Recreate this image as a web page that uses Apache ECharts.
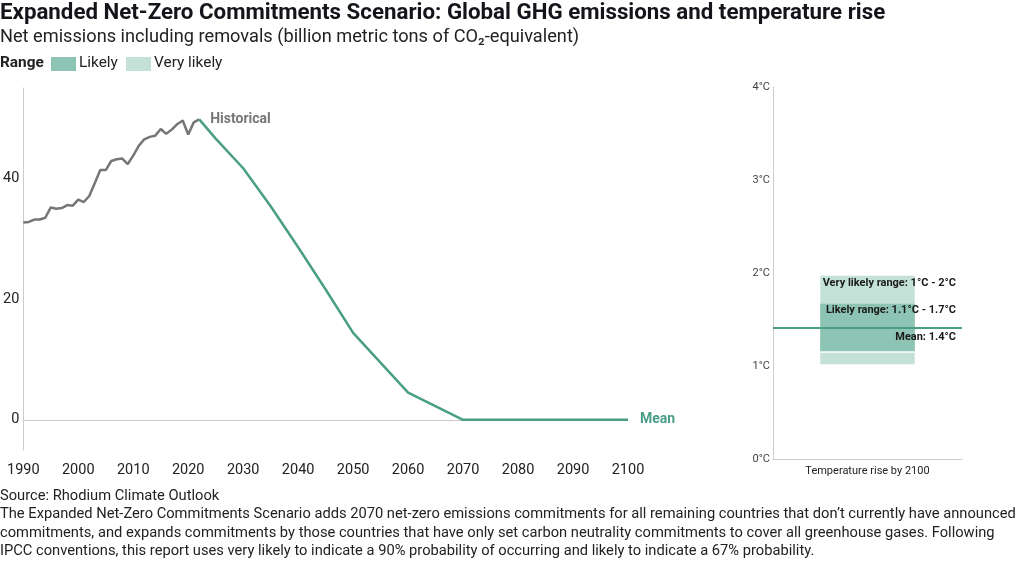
<!DOCTYPE html>
<html><head><meta charset="utf-8">
<script src="https://cdn.jsdelivr.net/npm/echarts@6/dist/echarts.min.js"></script>
<style>html,body{margin:0;padding:0;background:#fff}#c{width:1020px;height:561px}</style>
</head><body><div id="c"></div>
<script>
// ---- data ----
const histYears = [1990,1991,1992,1993,1994,1995,1996,1997,1998,1999,2000,2001,2002,2003,2004,2005,2006,2007,2008,2009,2010,2011,2012,2013,2014,2015,2016,2017,2018,2019,2020,2021,2022];
const histValues = [32.7,32.8,33.2,33.2,33.5,35.2,35.0,35.1,35.6,35.5,36.5,36.1,37.1,39.2,41.4,41.4,42.9,43.2,43.3,42.4,43.8,45.4,46.5,46.9,47.1,48.2,47.4,48.1,49.0,49.6,47.3,49.3,49.8];
const projYears = [2022,2025,2030,2035,2040,2045,2050,2060,2070,2080,2090,2100];
const meanValues = [49.8,46.6,41.7,35.4,28.6,21.6,14.4,4.5,0,0,0,0];
const veryLikelyLow = [49.8,45.7,40.5,34.2,27.5,20.7,13.8,4.2,0,0,0,0];
const veryLikelyHigh = [49.8,47.5,42.9,36.6,29.7,22.5,15.0,4.8,0,0,0,0];
const likelyLow = [49.8,46.1,41.1,34.8,28.0,21.1,14.1,4.35,0,0,0,0];
const likelyHigh = [49.8,47.1,42.3,36.0,29.2,22.1,14.7,4.65,0,0,0,0];
const yTicks = [0,20,40];
const tempCategory = ['Temperature rise by 2100'];
const tempMean = 1.41;
const tempLikely = [1.15,1.67];
const tempVeryLikely = [1.02,1.97];
const tempLabels = ['Very likely range: 1°C - 2°C','Likely range: 1.1°C - 1.7°C','Mean: 1.4°C'];

const FONT = 'Roboto, "Noto Sans", sans-serif';
const C_LIKELY = '#8dc4b4';
const C_VLIKELY = '#c4e1d8';
const C_MEAN = '#4a9e86';
const C_HIST = '#767676';

const pair = (xs, ys) => xs.map((x,i)=>[x, ys[i]]);
const diff = (hi, lo) => projYears.map((x,i)=>[x, +(hi[i]-lo[i]).toFixed(3)]);

const chart = echarts.init(document.getElementById('c'), null, {renderer:'canvas'});

function rangeItem(label, color, whiteBottom, labelOffset) {
  return function(params, api) {
    const x = api.value(0);
    const lo = api.coord([x, api.value(1)]);
    const hi = api.coord([x, api.value(2)]);
    const bw = api.size([1,0])[0]*0.5;
    const cs = params.coordSys;
    const children = [{
      type:'rect', shape:{x:lo[0]-bw/2, y:hi[1], width:bw, height:lo[1]-hi[1]},
      style:{fill:color}
    }];
    if (whiteBottom) children.push({type:'line', shape:{x1:lo[0]-bw/2,y1:lo[1],x2:lo[0]+bw/2,y2:lo[1]}, style:{stroke:'#fff', lineWidth:1.5}});
    children.push({type:'text', z2:10, style:{text:label, x:cs.x+cs.width-6, y:hi[1]+labelOffset, align:'right', verticalAlign:'middle', font:'bold 11px '+FONT, fill:'#1a1a1a'}});
    return {type:'group', children};
  };
}

const footer = [
  'Source: Rhodium Climate Outlook',
  'The Expanded Net-Zero Commitments Scenario adds 2070 net-zero emissions commitments for all remaining countries that don’t currently have announced',
  'commitments, and expands commitments by those countries that have only set carbon neutrality commitments to cover all greenhouse gases. Following',
  'IPCC conventions, this report uses very likely to indicate a 90% probability of occurring and likely to indicate a 67% probability.'
];

const graphic = [
  {type:'text', left:0, top:2, style:{text:'Expanded Net-Zero Commitments Scenario: Global GHG emissions and temperature rise', font:'bold 22.3px '+FONT, fill:'#14141a'}},
  {type:'text', left:0, top:28, style:{text:'Net emissions including removals (billion metric tons of CO₂-equivalent)', font:'18.2px '+FONT, fill:'#222'}},
  {type:'text', left:0, top:56, style:{text:'Range', font:'bold 15.4px '+FONT, fill:'#222'}},
  {type:'rect', left:51, top:57, shape:{width:25, height:14}, style:{fill:C_LIKELY}},
  {type:'text', left:79, top:56, style:{text:'Likely', font:'15.4px '+FONT, fill:'#222'}},
  {type:'rect', left:126, top:57, shape:{width:25, height:14}, style:{fill:C_VLIKELY}},
  {type:'text', left:154, top:56, style:{text:'Very likely', font:'15.4px '+FONT, fill:'#222'}},
];
footer.forEach((t,i)=>graphic.push({type:'text', left:0, top:489+i*18.3, style:{text:t, font:'14.7px '+FONT, fill:'#222'}}));

chart.setOption({
  animation:false,
  backgroundColor:'#fff',
  graphic,
  grid:[
    {left:20, top:88, width:608, height:362},
    {left:773, top:87, width:189, height:372}
  ],
  xAxis:[
    {gridIndex:0, type:'value', min:1990, max:2100, interval:10,
     axisLine:{show:true, lineStyle:{color:'#cccccc', width:1}}, axisTick:{show:false}, splitLine:{show:false},
     axisLabel:{color:'#222', fontSize:14.5, fontFamily:FONT, margin:13, formatter:v=>String(v)}},
    {gridIndex:1, type:'category', data:tempCategory,
     axisLine:{show:true, lineStyle:{color:'#cccccc'}}, axisTick:{show:false},
     axisLabel:{color:'#222', fontSize:11, fontFamily:FONT, margin:7}}
  ],
  yAxis:[
    {gridIndex:0, type:'value', min:-5, max:55, interval:5,
     axisLine:{show:true, lineStyle:{color:'#cccccc'}}, axisTick:{show:false}, splitLine:{show:false},
     axisLabel:{color:'#222', fontSize:14.5, fontFamily:FONT, margin:4, padding:[5,0,0,0], formatter:v=>yTicks.includes(v)?String(v):''}},
    {gridIndex:1, type:'value', min:0, max:4, interval:1,
     axisLine:{show:true, lineStyle:{color:'#cccccc'}}, axisTick:{show:false}, splitLine:{show:false},
     axisLabel:{color:'#444', fontSize:11, fontFamily:FONT, margin:3, formatter:'{value}°C'}}
  ],
  series:[
    {type:'line', xAxisIndex:0, yAxisIndex:0, stack:'vl', data:pair(projYears, veryLikelyLow), showSymbol:false, lineStyle:{width:0}, silent:true},
    {type:'line', xAxisIndex:0, yAxisIndex:0, stack:'vl', data:diff(veryLikelyHigh, veryLikelyLow), showSymbol:false, lineStyle:{width:0}, areaStyle:{color:C_VLIKELY, opacity:0.75}, silent:true},
    {type:'line', xAxisIndex:0, yAxisIndex:0, stack:'lk', data:pair(projYears, likelyLow), showSymbol:false, lineStyle:{width:0}, silent:true},
    {type:'line', xAxisIndex:0, yAxisIndex:0, stack:'lk', data:diff(likelyHigh, likelyLow), showSymbol:false, lineStyle:{width:0}, areaStyle:{color:C_LIKELY, opacity:0.6}, silent:true},
    {type:'line', name:'Historical', xAxisIndex:0, yAxisIndex:0, data:pair(histYears, histValues), showSymbol:false,
     lineStyle:{color:C_HIST, width:2.5}, itemStyle:{color:C_HIST},
     endLabel:{show:true, formatter:'Historical', color:C_HIST, fontWeight:'bold', fontSize:14, fontFamily:FONT, distance:11}},
    {type:'line', name:'Mean', xAxisIndex:0, yAxisIndex:0, data:pair(projYears, meanValues), showSymbol:false,
     lineStyle:{color:C_MEAN, width:2.5}, itemStyle:{color:C_MEAN},
     endLabel:{show:true, formatter:'Mean', color:C_MEAN, fontWeight:'bold', fontSize:14, fontFamily:FONT, distance:12}},
    {type:'custom', xAxisIndex:1, yAxisIndex:1, data:[[0, tempVeryLikely[0], tempVeryLikely[1]]],
     renderItem:rangeItem(tempLabels[0], C_VLIKELY, false, 7), silent:true},
    {type:'custom', xAxisIndex:1, yAxisIndex:1, data:[[0, tempLikely[0], tempLikely[1]]],
     renderItem:rangeItem(tempLabels[1], C_LIKELY, true, 6.5), silent:true,
     markLine:{silent:true, symbol:'none', label:{show:false}, lineStyle:{color:C_MEAN, width:2, type:'solid'}, data:[{yAxis:tempMean}]}},
    {type:'custom', xAxisIndex:1, yAxisIndex:1, data:[[0, tempMean, tempMean]],
     renderItem:function(params, api){
       const p = api.coord([0, api.value(1)]);
       const cs = params.coordSys;
       return {type:'text', z2:10, style:{text:tempLabels[2], x:cs.x+cs.width-6, y:p[1]+9, align:'right', verticalAlign:'middle', font:'bold 11px '+FONT, fill:'#1a1a1a'}};
     }, silent:true, z:5}
  ]
});
</script></body></html>
